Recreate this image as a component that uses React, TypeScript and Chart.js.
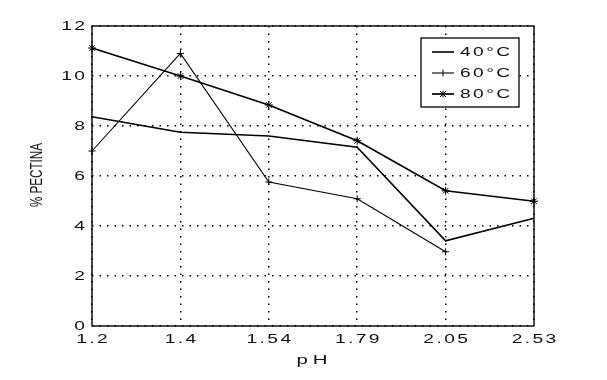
import React, { useEffect, useRef } from "react";
import { Chart, registerables } from "chart.js";

Chart.register(...registerables);

const categories = ["1.2", "1.4", "1.54", "1.79", "2.05", "2.53"];
const series40 = [8.37, 7.75, 7.6, 7.15, 3.41, 4.31];
const series60 = [7.0, 10.9, 5.76, 5.09, 2.97, null];
const series80 = [11.12, 10.0, 8.84, 7.41, 5.41, 4.99];
const legendLabels = ["40°C", "60°C", "80°C"];
const yTitle = "% PECTINA";
const xTitle = "pH";

const FONT = '"Liberation Sans", Arial, sans-serif';

// draw horizontally stretched text (real text via fillText)
function wideText(
  ctx: CanvasRenderingContext2D,
  text: string,
  x: number,
  y: number,
  align: "left" | "center" | "right",
  size = 12,
  sx = 1.6,
  ls = 1.5
) {
  ctx.save();
  (ctx as any).letterSpacing = "0px";
  ctx.font = `${size}px ${FONT}`;
  const base = ctx.measureText(text).width + ls * (text.length - 1);
  const w = base * sx;
  let left = x;
  if (align === "center") left = x - w / 2;
  else if (align === "right") left = x - w;
  ctx.translate(left, y);
  ctx.scale(sx, 1);
  (ctx as any).letterSpacing = `${ls}px`;
  ctx.textAlign = "left";
  ctx.textBaseline = "middle";
  ctx.fillStyle = "#111";
  ctx.fillText(text, 0, 0);
  ctx.restore();
}

export default function App() {
  const ref = useRef<HTMLCanvasElement | null>(null);

  useEffect(() => {
    if (!ref.current) return;

    const framePlugin = {
      id: "frame",
      afterDraw(chart: any) {
        const ctx = chart.ctx as CanvasRenderingContext2D;
        const a = chart.chartArea;
        const xs = chart.scales.x;
        const ys = chart.scales.y;
        ctx.save();
        ctx.strokeStyle = "#000";
        ctx.lineWidth = 1.4;
        ctx.setLineDash([]);
        ctx.strokeRect(a.left, a.top, a.right - a.left, a.bottom - a.top);

        // tick labels from the library's scales
        ys.ticks.forEach((t: any) => {
          const py = ys.getPixelForValue(t.value);
          wideText(ctx, String(t.value), a.left - 7, py + 1, "right");
        });
        xs.ticks.forEach((t: any, i: number) => {
          const px = xs.getPixelForTick(i);
          wideText(ctx, categories[t.value] ?? String(t.label), px, a.bottom + 13.5, "center");
        });

        // axis titles
        wideText(ctx, xTitle, (a.left + a.right) / 2 - 1, 361, "center", 12, 1.7, 3);
        ctx.save();
        ctx.translate(37, 175);
        ctx.rotate(-Math.PI / 2);
        ctx.font = `17px "Liberation Sans Narrow", ${FONT}`;
        const tw = ctx.measureText(yTitle).width;
        const k = 64 / tw;
        ctx.scale(k, 1);
        ctx.fillStyle = "#111";
        ctx.textAlign = "center";
        ctx.textBaseline = "middle";
        ctx.fillText(yTitle, 0, 0);
        ctx.restore();

        // legend box
        const bx = 421, by = 38, bw = 98, bh = 69;
        ctx.fillStyle = "#fff";
        ctx.fillRect(bx, by, bw, bh);
        ctx.strokeStyle = "#000";
        ctx.lineWidth = 1.3;
        ctx.strokeRect(bx, by, bw, bh);
        const rows = [52, 73, 94];
        const lw = [1.6, 1.1, 1.7];
        legendLabels.forEach((lab, i) => {
          const y = rows[i];
          ctx.beginPath();
          ctx.lineWidth = lw[i];
          ctx.moveTo(432, y);
          ctx.lineTo(454, y);
          ctx.stroke();
          wideText(ctx, lab, 460, y + 1, "left");
        });
        ctx.lineWidth = 1;
        ctx.beginPath();
        ctx.moveTo(443, rows[1] - 3.5);
        ctx.lineTo(443, rows[1] + 3.5);
        ctx.stroke();
        ctx.beginPath();
        ctx.moveTo(443, rows[2] - 3.5);
        ctx.lineTo(443, rows[2] + 3.5);
        ctx.moveTo(440, rows[2] - 3);
        ctx.lineTo(446, rows[2] + 3);
        ctx.moveTo(440, rows[2] + 3);
        ctx.lineTo(446, rows[2] - 3);
        ctx.stroke();
        ctx.restore();
      },
    };

    const mk = (label: string, data: (number | null)[], style: any, radius: number, w: number) => ({
      label,
      data,
      borderColor: "#000",
      backgroundColor: "#000",
      borderWidth: w,
      pointStyle: style,
      pointRadius: radius,
      pointBorderWidth: 1,
      pointBorderColor: "#000",
      tension: 0,
      spanGaps: false,
    });

    const chart = new Chart(ref.current, {
      type: "line",
      data: {
        labels: categories,
        datasets: [
          mk(legendLabels[0], series40, false, 0, 1.6),
          mk(legendLabels[1], series60, "cross", 3.5, 1.1),
          mk(legendLabels[2], series80, "star", 4, 1.7),
        ],
      },
      options: {
        animation: false,
        responsive: false,
        layout: { padding: { left: 0, top: 26, right: 73, bottom: 0 } },
        plugins: { legend: { display: false }, tooltip: { enabled: false } },
        scales: {
          x: {
            type: "category",
            offset: false,
            afterFit: (s: any) => {
              s.height = 54;
            },
            grid: { color: "#000", lineWidth: 1.5, drawTicks: false },
            border: { display: false, dash: [1.5, 6] },
            ticks: { display: false, autoSkip: false, maxRotation: 0 },
          },
          y: {
            min: 0,
            max: 12,
            afterFit: (s: any) => {
              s.width = 92;
            },
            grid: { color: "#000", lineWidth: 1.5, drawTicks: false },
            border: { display: false, dash: [1.5, 6] },
            ticks: { display: false, stepSize: 2 },
          },
        },
      },
      plugins: [framePlugin],
    } as any);
    return () => chart.destroy();
  }, []);

  return (
    <div style={{ position: "absolute", left: 0, top: 0, width: 607, height: 380, background: "#fff" }}>
      <canvas ref={ref} width={607} height={380} />
    </div>
  );
}
